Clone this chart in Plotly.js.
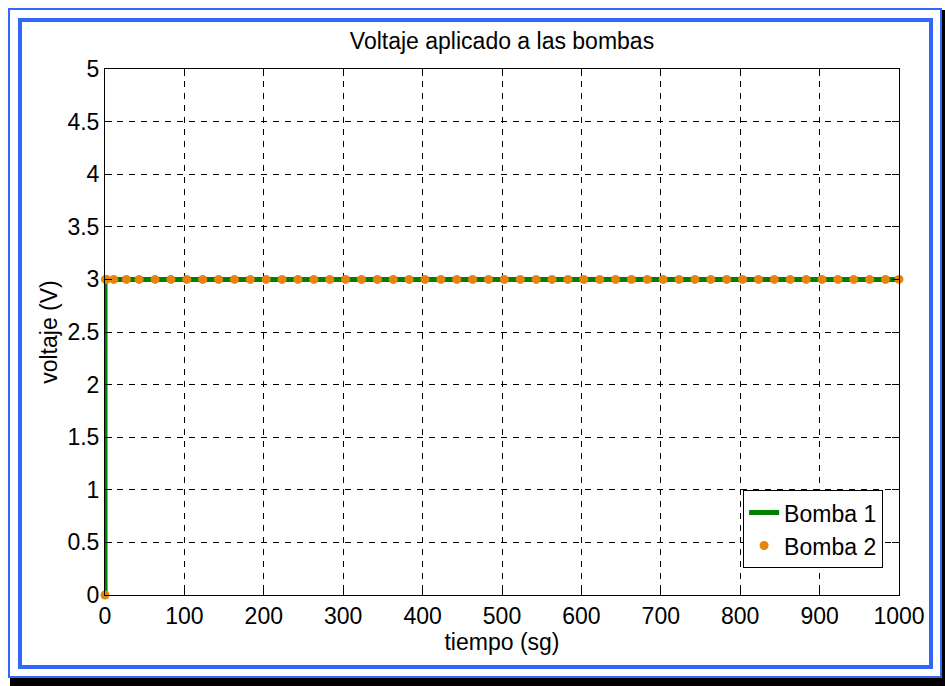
<!DOCTYPE html>
<html>
<head>
<meta charset="utf-8">
<script src="https://cdn.plot.ly/plotly-3.0.1.min.js"></script>
<style>
html,body{margin:0;padding:0;width:945px;height:686px;overflow:hidden;background:#fff;}
#shadow{position:absolute;left:10px;top:10px;width:935px;height:676px;background:#000;}
#page{position:absolute;left:0;top:0;width:942px;height:678px;background:#fff;}
#outer{position:absolute;left:8px;top:8px;width:930px;height:666px;border:2px solid #3366ff;}
#inner{position:absolute;left:18px;top:18px;width:907px;height:643px;border:4px solid #3366ff;}
#chart{position:absolute;left:0;top:0;width:945px;height:686px;}
</style>
</head>
<body>
<div id="shadow"></div>
<div id="page"></div>
<div id="outer"></div>
<div id="inner"></div>
<div id="chart"></div>
<script>
// Bomba 1 (voltage step)
const tiempo1 = [0, 0, 1000];
const voltaje1 = [0, 3, 3];

// Bomba 2 (sampled points)
const tiempo2 = [0, 0.5, 2, 11, 27, 43, 63, 83, 103, 123, 143, 163, 183, 203, 223, 243, 263, 283, 303, 323,
  343, 363, 383, 403, 423, 443, 463, 483, 503, 523, 543, 563, 583, 603, 623, 643, 663, 683, 703, 723,
  743, 763, 783, 803, 823, 843, 863, 883, 903, 923, 943, 963, 983, 1000];
const voltaje2 = [0, 3, 3, 3, 3, 3, 3, 3, 3, 3, 3, 3, 3, 3, 3, 3, 3, 3, 3, 3,
  3, 3, 3, 3, 3, 3, 3, 3, 3, 3, 3, 3, 3, 3, 3, 3, 3, 3, 3, 3,
  3, 3, 3, 3, 3, 3, 3, 3, 3, 3, 3, 3, 3, 3];

const titulo = 'Voltaje aplicado a las bombas';
const tituloX = 'tiempo (sg)';
const tituloY = 'voltaje (V)';
const nombres = ['Bomba 1', 'Bomba 2'];

const F = 'Arial, "Liberation Sans", sans-serif';
const FS = 23;

const traces = [
  {x: tiempo1, y: voltaje1, mode: 'lines', name: nombres[0],
   line: {color: '#008000', width: 5}, cliponaxis: false},
  {x: tiempo2, y: voltaje2, mode: 'markers', name: nombres[1],
   marker: {color: '#e6850e', size: 9}, cliponaxis: false}
];

const axisCommon = {
  showline: true, linecolor: '#000', linewidth: 1, mirror: 'ticks',
  ticks: 'inside', ticklen: 7, tickcolor: '#000', tickwidth: 1,
  showgrid: true, gridcolor: '#000', gridwidth: 1, griddash: '6px,6px',
  zeroline: false, tickfont: {family: F, size: FS, color: '#000'}
};

const layout = {
  width: 945, height: 686,
  paper_bgcolor: 'rgba(0,0,0,0)', plot_bgcolor: '#fff',
  margin: {l: 105, r: 46, t: 69, b: 91},
  font: {family: F, size: FS, color: '#000'},
  title: {text: titulo, x: 0.5, xref: 'paper', y: 1 - 41/686, yanchor: 'middle',
          font: {family: F, size: FS, color: '#000'}},
  xaxis: Object.assign({}, axisCommon, {range: [0, 1000], dtick: 100, tick0: 0,
    title: {text: tituloX, standoff: 6, font: {family: F, size: FS, color: '#000'}}}),
  yaxis: Object.assign({}, axisCommon, {range: [0, 5], dtick: 0.5, tick0: 0,
    title: {text: tituloY, standoff: 3, font: {family: F, size: FS, color: '#000'}}}),
  showlegend: true,
  legend: {x: 0.98, xanchor: 'right', y: 0.051, yanchor: 'bottom',
    bgcolor: '#fff', bordercolor: '#000', borderwidth: 1, tracegroupgap: 0,
    font: {family: F, size: FS, color: '#000'}}
};

Plotly.newPlot('chart', traces, layout, {displayModeBar: false, staticPlot: true});
</script>
</body>
</html>
